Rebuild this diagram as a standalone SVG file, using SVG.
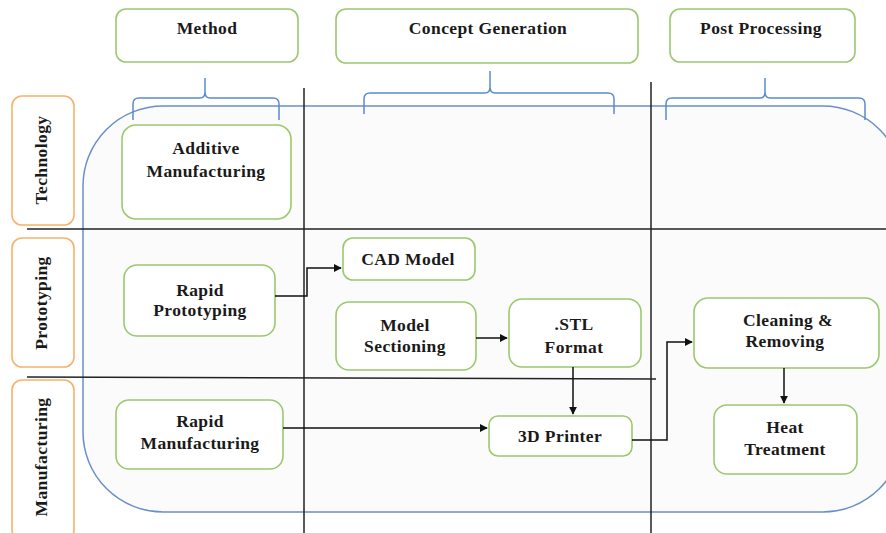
<svg xmlns="http://www.w3.org/2000/svg" width="886" height="533" viewBox="0 0 886 533">
<style>
.node{fill:#ffffff;stroke:#9cc86e;stroke-width:1.6}
.row{fill:#ffffff;stroke:#f6b26b;stroke-width:1.6}
.brace{fill:none;stroke:#5b8bd0;stroke-width:1.5}
.grid{stroke:#222;stroke-width:1.5;fill:none}
.conn{fill:none;stroke:#111;stroke-width:1.5}
</style>
<defs>
<marker id="arr" viewBox="0 0 10 10" refX="9" refY="5" markerWidth="8" markerHeight="8" orient="auto" markerUnits="userSpaceOnUse">
<path d="M0,0 L10,5 L0,10 z" fill="#111"/>
</marker>
</defs>
<rect x="0" y="0" width="886" height="533" fill="#ffffff"/>
<rect x="83" y="106" width="820" height="406" rx="80" ry="80" fill="#fbfbfb" stroke="#6a8fc8" stroke-width="1.5"/>

<g id="grid">
<line class="grid" x1="27" y1="229" x2="886" y2="229"/>
<line class="grid" x1="27" y1="377" x2="656" y2="379"/>
<line class="grid" x1="304" y1="88" x2="304" y2="533"/>
<line class="grid" x1="651" y1="82" x2="651" y2="533"/>
</g>

<g id="braces">
<path class="brace" d="M133,120 V104 Q133,98 139,98 H200 Q205,98 205,92 V78 M205,92 Q205,98 210,98 H273 Q279,98 279,104 V120"/>
<path class="brace" d="M364,114 V99 Q364,93 370,93 H485 Q490,93 490,87 V71 M490,87 Q490,93 495,93 H608 Q614,93 614,99 V114"/>
<path class="brace" d="M666,120 V104 Q666,98 672,98 H760 Q765,98 765,92 V78 M765,92 Q765,98 770,98 H859 Q865,98 865,104 V120"/>
</g>

<g font-family="Liberation Serif, DejaVu Serif, serif" font-weight="bold" font-size="17.5" letter-spacing="0.4" fill="#1a1a1a" text-anchor="middle">
<g id="hdr-method"><rect class="node" x="116" y="9" width="182" height="53" rx="10"/><text x="207" y="34">Method</text></g>
<g id="hdr-concept"><rect class="node" x="336" y="9" width="302" height="54" rx="10"/><text x="488" y="34">Concept Generation</text></g>
<g id="hdr-post"><rect class="node" x="670" y="9" width="185" height="53" rx="10"/><text x="761" y="34">Post Processing</text></g>

<g id="row-tech"><rect class="row" x="12" y="96" width="62" height="129" rx="10"/><text transform="translate(47,160) rotate(-90)">Technology</text></g>
<g id="row-proto"><rect class="row" x="12" y="238" width="62" height="129" rx="10"/><text transform="translate(47,303) rotate(-90)">Prototyping</text></g>
<g id="row-manu"><rect class="row" x="12" y="380" width="62" height="160" rx="10"/><text transform="translate(47,457) rotate(-90)">Manufacturing</text></g>

<g id="n-additive"><rect class="node" x="122" y="125" width="169" height="94" rx="14"/><text x="206" y="154">Additive</text><text x="206" y="177">Manufacturing</text></g>
<g id="n-rp"><rect class="node" x="124" y="265" width="151" height="71" rx="13"/><text x="200" y="296">Rapid</text><text x="200" y="316">Prototyping</text></g>
<g id="n-rm"><rect class="node" x="116" y="400" width="167" height="69" rx="13"/><text x="200" y="427">Rapid</text><text x="200" y="449">Manufacturing</text></g>
<g id="n-cad"><rect class="node" x="343" y="238" width="132" height="42" rx="10"/><text x="408" y="265">CAD Model</text></g>
<g id="n-ms"><rect class="node" x="336" y="302" width="140" height="68" rx="13"/><text x="405" y="331">Model</text><text x="405" y="352">Sectioning</text></g>
<g id="n-stl"><rect class="node" x="509" y="299" width="132" height="68" rx="13"/><text x="574" y="330">.STL</text><text x="574" y="353">Format</text></g>
<g id="n-3d"><rect class="node" x="489" y="416" width="143" height="40" rx="9"/><text x="560" y="442">3D Printer</text></g>
<g id="n-clean"><rect class="node" x="694" y="298" width="185" height="70" rx="14"/><text x="788" y="326">Cleaning &amp;</text><text x="785" y="347">Removing</text></g>
<g id="n-heat"><rect class="node" x="714" y="405" width="143" height="69" rx="13"/><text x="785" y="433">Heat</text><text x="785" y="455">Treatment</text></g>
</g>

<g id="connectors">
<path class="conn" d="M275,296 H307 V268 H341" marker-end="url(#arr)"/>
<path class="conn" d="M476,338 H507" marker-end="url(#arr)"/>
<path class="conn" d="M573,367 V414" marker-end="url(#arr)"/>
<path class="conn" d="M283,428 H487" marker-end="url(#arr)"/>
<path class="conn" d="M632,440 H667 V342 H692" marker-end="url(#arr)"/>
<path class="conn" d="M784,368 V403" marker-end="url(#arr)"/>
</g>
</svg>
